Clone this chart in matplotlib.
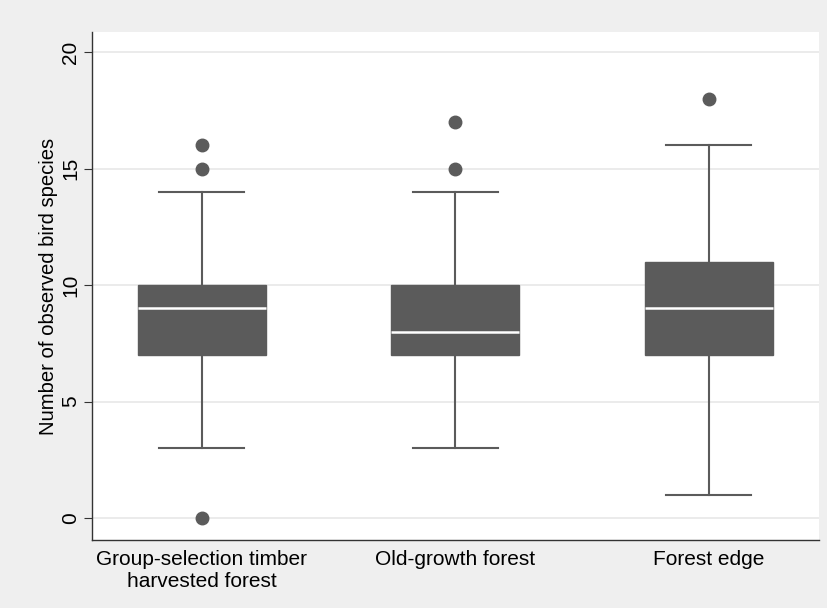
import matplotlib
matplotlib.use("Agg")
import matplotlib.pyplot as plt

plt.rcParams['font.family'] = ['Liberation Sans', 'DejaVu Sans']

# --- data ---
labels = ["Group-selection timber\nharvested forest", "Old-growth forest", "Forest edge"]
whislo = [3, 3, 1]
q1 = [7, 7, 7]
med = [9, 8, 9]
q3 = [10, 10, 11]
whishi = [14, 14, 16]
fliers = [[0, 15, 16], [15, 17], [18]]

stats = []
for i in range(len(labels)):
    stats.append({"whislo": whislo[i], "q1": q1[i], "med": med[i], "q3": q3[i],
                  "whishi": whishi[i], "fliers": fliers[i], "label": labels[i]})

box_color = "#5b5b5b"

fig = plt.figure(figsize=(8.28, 6.08), dpi=100, facecolor="#efefef")
ax = fig.add_axes([0.111, 0.112, 0.878, 0.835])
ax.set_facecolor("white")

ax.bxp(stats, positions=[1, 2, 3], widths=0.505, patch_artist=True,
       boxprops=dict(facecolor=box_color, edgecolor=box_color, linewidth=1),
       medianprops=dict(color="white", linewidth=1.8),
       whiskerprops=dict(color=box_color, linewidth=1.5),
       capprops=dict(color=box_color, linewidth=1.5),
       capwidths=0.335,
       flierprops=dict(marker="o", markerfacecolor=box_color, markeredgecolor=box_color,
                       markersize=9))

ax.set_xlim(0.566, 3.434)
ax.set_ylim(-0.94, 20.86)
ax.set_yticks([0, 5, 10, 15, 20])
ax.yaxis.grid(True, color="#e8e8e8", linewidth=1.2)
ax.set_axisbelow(True)

for s in ["top", "right"]:
    ax.spines[s].set_visible(False)
for s in ["left", "bottom"]:
    ax.spines[s].set_color("#333333")
    ax.spines[s].set_linewidth(1)

ax.tick_params(axis="y", labelsize=15, length=5.5, color="#333333", labelrotation=90, pad=3)
for t in ax.get_yticklabels():
    t.set_va("center")
ax.tick_params(axis="x", length=0, labelsize=15, pad=7)
ax.set_ylabel("Number of observed bird species", fontsize=14.6, labelpad=2)

fig.savefig("out.png", dpi=100, facecolor=fig.get_facecolor())
